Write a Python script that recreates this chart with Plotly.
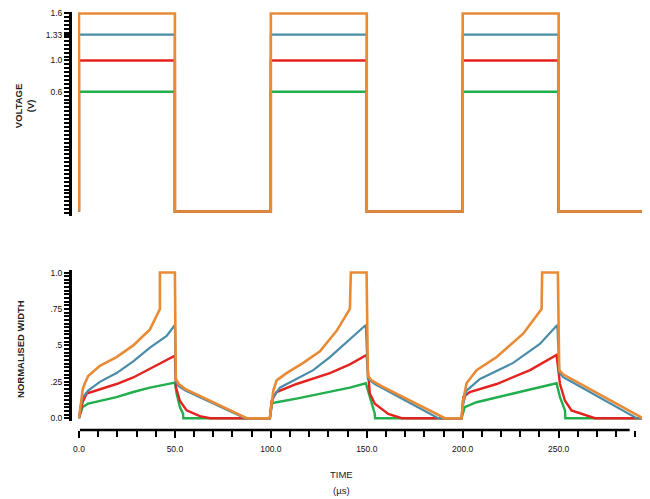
import plotly.graph_objects as go

# ---------------- data ----------------
# Top panel: applied voltage pulses (V)
pulse_edges_t = [0, 0, 50, 50, 100, 100, 150, 150, 200, 200, 250, 250, 294]
pulse_state   = [0, 1, 1, 0, 0, 1, 1, 0, 0, 1, 1, 0, 0]   # 1 = on, 0 = off
v_off = -0.93
levels = {"1.6 V": 1.6, "1.33 V": 1.33, "1.0 V": 1.0, "0.6 V": 0.6}
v_tickvals = [0.6, 1.0, 1.33, 1.6]
v_ticktext = ["0.6", "1.0", "1.33", "1.6"]

# Bottom panel: normalised width vs time (µs)
t_orange = [0, 1.0, 2.0, 3.1, 4.8, 10.9, 19.6, 28.3, 37.0, 42.2, 42.2, 50.0, 50.5, 52.0, 55.5, 87.5, 99.5,
            100.4, 101.3, 103.0, 108.2, 116.9, 125.6, 134.3, 141.2, 141.7, 149.9, 150.6, 152.5, 157.7, 190.7, 199.4,
            200.2, 202.0, 207.2, 217.7, 231.5, 241.1, 241.4, 249.6, 250.3, 252.5, 256.7, 294.0]
w_orange = [0, 0.12, 0.20, 0.24, 0.29, 0.36, 0.42, 0.50, 0.61, 0.75, 1.0, 1.0, 0.27, 0.235, 0.20, 0.0, 0.0,
            0.10, 0.19, 0.26, 0.31, 0.38, 0.46, 0.60, 0.75, 1.0, 1.0, 0.29, 0.26, 0.22, 0.0, 0.0,
            0.12, 0.24, 0.33, 0.42, 0.58, 0.75, 1.0, 1.0, 0.33, 0.30, 0.27, 0.0]

t_blue = [0, 1.0, 2.2, 4.8, 10.9, 19.6, 28.3, 37.0, 45.7, 50.0, 50.5, 52.0, 55.5, 86.5, 99.5,
          100.3, 101.3, 104.7, 113.4, 122.1, 130.8, 139.5, 149.5, 150.6, 154.2, 187.2, 199.4,
          200.3, 202.0, 209.0, 226.3, 240.2, 249.3, 250.4, 252.5, 256.7, 290.6, 294.0]
w_blue = [0, 0.09, 0.145, 0.19, 0.25, 0.31, 0.39, 0.485, 0.565, 0.64, 0.25, 0.22, 0.19, 0.0, 0.0,
          0.08, 0.145, 0.21, 0.27, 0.33, 0.42, 0.52, 0.64, 0.27, 0.235, 0.0, 0.0,
          0.10, 0.19, 0.27, 0.38, 0.51, 0.64, 0.31, 0.28, 0.25, 0.0, 0.0]

t_red = [0, 1.9, 4.0, 10.9, 19.6, 28.3, 37.0, 45.7, 50.0, 50.6, 52.6, 56.1, 63.0, 68.3, 99.5,
         100.4, 103.0, 113.4, 130.8, 141.2, 149.9, 151.6, 154.2, 161.2, 168.2, 199.4,
         200.3, 203.7, 217.7, 235.1, 248.9, 250.7, 253.3, 256.7, 268.9, 294.0]
w_red = [0, 0.11, 0.17, 0.20, 0.235, 0.28, 0.34, 0.395, 0.43, 0.21, 0.12, 0.054, 0.014, 0.0, 0.0,
         0.12, 0.18, 0.235, 0.31, 0.37, 0.435, 0.17, 0.10, 0.03, 0.0, 0.0,
         0.145, 0.18, 0.235, 0.33, 0.435, 0.235, 0.12, 0.054, 0.0, 0.0]

t_green = [0, 1.9, 4.8, 10.9, 19.6, 28.3, 37.0, 50.0, 50.9, 52.6, 54.3, 54.4, 99.5,
           100.4, 103.0, 113.4, 130.8, 141.2, 149.5, 151.6, 153.4, 154.2, 154.3, 199.4,
           201.1, 207.2, 226.3, 248.9, 250.7, 253.3, 253.5, 294.0]
w_green = [0, 0.077, 0.10, 0.12, 0.145, 0.18, 0.21, 0.245, 0.17, 0.077, 0.03, 0.0, 0.0,
           0.10, 0.11, 0.135, 0.18, 0.21, 0.24, 0.145, 0.054, 0.03, 0.0, 0.0,
           0.077, 0.11, 0.17, 0.24, 0.145, 0.054, 0.0, 0.0]

w_tickvals = [0, 0.25, 0.5, 0.75, 1.0]
w_ticktext = ["0.0", ".25", ".5", ".75", "1.0"]

colors = {"1.6 V": "#E98A35", "1.33 V": "#4A8CA8", "1.0 V": "#E3231E", "0.6 V": "#21AE4C"}
widths = {"1.6 V": 2.6, "1.33 V": 2.2, "1.0 V": 2.4, "0.6 V": 2.4}

# ---------------- figure ----------------
FONT = "Liberation Sans"
fig = go.Figure()

draw_order = ["0.6 V", "1.0 V", "1.33 V", "1.6 V"]
for name in draw_order:
    lv = levels[name]
    yv = [lv if s else v_off for s in pulse_state]
    fig.add_trace(go.Scatter(x=pulse_edges_t, y=yv, mode="lines", xaxis="x", yaxis="y",
                             line=dict(color=colors[name], width=widths[name]),
                             showlegend=False, hoverinfo="skip"))

bottom = {"0.6 V": (t_green, w_green), "1.0 V": (t_red, w_red),
          "1.33 V": (t_blue, w_blue), "1.6 V": (t_orange, w_orange)}
for name in draw_order:
    tt, ww = bottom[name]
    fig.add_trace(go.Scatter(x=tt, y=ww, mode="lines", xaxis="x2", yaxis="y2",
                             line=dict(color=colors[name], width=widths[name]),
                             showlegend=False, hoverinfo="skip"))

tickfont = dict(family=FONT, size=8.5, color="#111")
xdom = [0.0139, 1.0]
xrange = [-0.5, 295]
xaxis_pos = 0.0231

fig.update_layout(
    width=650, height=499,
    margin=dict(l=62, r=13, t=0, b=67),
    paper_bgcolor="white", plot_bgcolor="white",
    showlegend=False,
    xaxis=dict(domain=xdom, range=xrange, visible=False, anchor="y"),
    yaxis=dict(domain=[0.5231, 1.0], range=[-0.989, 1.619], anchor="free", position=0,
               showgrid=False, zeroline=False, showline=True, linewidth=3, linecolor="black",
               tickvals=v_tickvals, ticktext=v_ticktext, ticks="outside", ticklen=5,
               tickwidth=2, tickcolor="black", tickfont=tickfont, ticklabeloverflow="allow",
               minor=dict(dtick=0.05, tick0=0, ticks="outside", ticklen=5, tickwidth=1.5,
                          tickcolor="black", showgrid=False)),
    xaxis2=dict(domain=xdom, range=xrange, anchor="free", position=xaxis_pos,
                showgrid=False, zeroline=False, showline=False,
                tick0=0, dtick=50, tickformat=".1f", ticks="outside", ticklen=7, tickwidth=2,
                tickcolor="black", tickfont=tickfont, ticklabelstandoff=4,
                minor=dict(dtick=10, tick0=0, ticks="outside", ticklen=6, tickwidth=2,
                           tickcolor="black", showgrid=False)),
    yaxis2=dict(domain=[0.0440, 0.3981], range=[-0.02, 1.02], anchor="free", position=0,
                showgrid=False, zeroline=False, showline=True, linewidth=3, linecolor="black",
                tickvals=w_tickvals, ticktext=w_ticktext, ticks="outside", ticklen=5,
                tickwidth=2, tickcolor="black", tickfont=tickfont, ticklabeloverflow="allow",
                minor=dict(dtick=0.025, tick0=0, ticks="outside", ticklen=5, tickwidth=1.5,
                           tickcolor="black", showgrid=False)),
)

# time axis line (stops a little before the right end of the traces, as in the original)
fig.add_shape(type="line", xref="x2", yref="paper", x0=xrange[0] + 1, x1=287, y0=xaxis_pos, y1=xaxis_pos,
              line=dict(color="black", width=2.5))

title_font = dict(family=FONT, size=9.5, color="#222")
fig.add_annotation(text="<b>VOLTAGE</b><br><b>(V)</b>", xref="paper", yref="paper",
                   x=-0.080, y=0.780, xanchor="center", yanchor="middle",
                   textangle=-90, showarrow=False, font=title_font)
fig.add_annotation(text="<b>NORMALISED WIDTH</b>", xref="paper", yref="paper",
                   x=-0.085, y=0.213, xanchor="center", yanchor="middle",
                   textangle=-90, showarrow=False, font=title_font)
fig.add_annotation(text="TIME", xref="paper", yref="paper", x=0.473, y=-0.081,
                   xanchor="center", yanchor="middle",
                   showarrow=False, font=dict(family=FONT, size=9.5, color="#222"))
fig.add_annotation(text="(µs)", xref="paper", yref="paper", x=0.473, y=-0.118,
                   xanchor="center", yanchor="middle",
                   showarrow=False, font=dict(family=FONT, size=9.5, color="#222"))

# thin grey frame line at the right edge of the picture
fig.add_shape(type="line", xref="paper", yref="paper", x0=1.0035, x1=1.0035, y0=-0.16, y1=1.01,
              line=dict(color="#a8a8a8", width=1))

fig.write_html("out.html")
